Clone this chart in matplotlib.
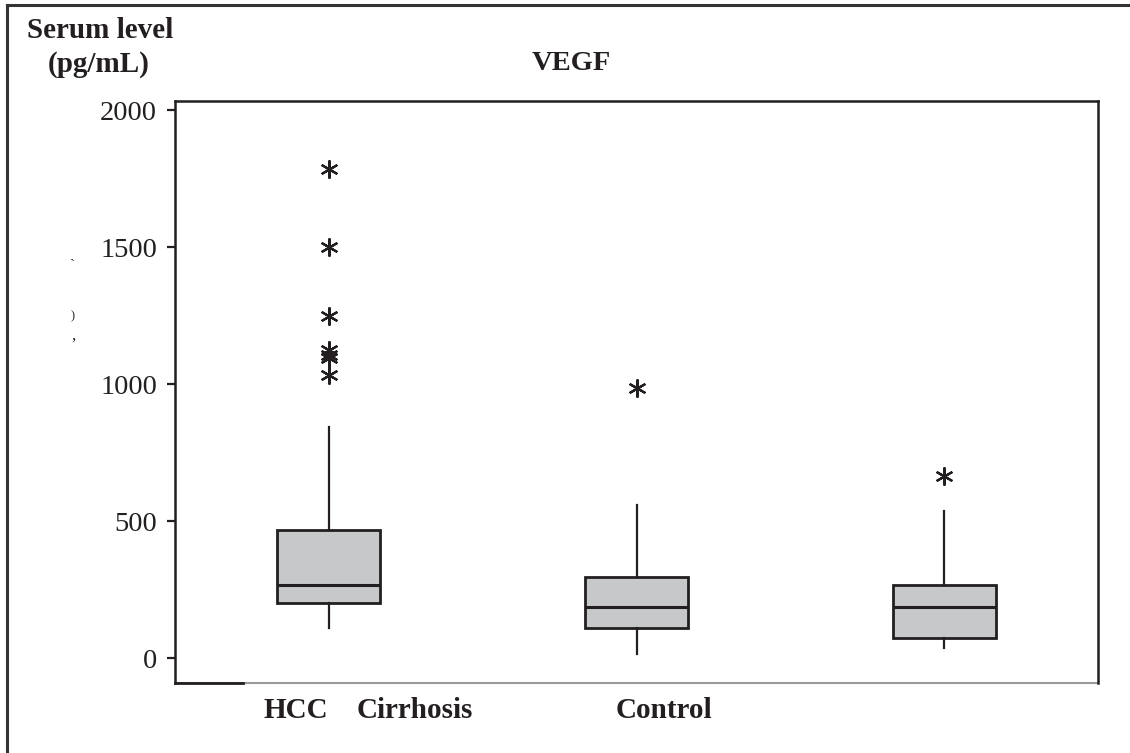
import matplotlib
matplotlib.use("Agg")
import matplotlib.pyplot as plt
from matplotlib.lines import Line2D

plt.rcParams['font.family'] = ['Liberation Serif', 'DejaVu Serif']

# ---- data ----
groups = ["HCC", "Cirrhosis", "Control"]
q1 = [201, 108, 72]
medians = [267, 186, 186]
q3 = [467, 295, 266]
whisker_low = [108, 16, 36]
whisker_high = [842, 558, 536]
outliers_hcc = [1785, 1500, 1250, 1123, 1106, 1094, 1032]
outliers_cirrhosis = [985]
outliers_control = [663]
fliers = [outliers_hcc, outliers_cirrhosis, outliers_control]
yticks = [0, 500, 1000, 1500, 2000]

INK = '#231f20'

fig = plt.figure(figsize=(11.30, 7.53), dpi=100)
ax = fig.add_axes([175/1130, 1 - 683/753, (1098-175)/1130, (683-101)/753])

stats = []
for i, g in enumerate(groups):
    stats.append(dict(label=g, q1=q1[i], med=medians[i], q3=q3[i],
                      whislo=whisker_low[i], whishi=whisker_high[i],
                      fliers=fliers[i]))

ax.bxp(stats, positions=[1, 2, 3], widths=0.335, patch_artist=True,
       showcaps=False,
       boxprops=dict(facecolor='#c7c8ca', edgecolor=INK, linewidth=2.0),
       medianprops=dict(color=INK, linewidth=2.2),
       whiskerprops=dict(color=INK, linewidth=1.6),
       flierprops=dict(marker=(6, 2, 0), markersize=13, markeredgewidth=1.6,
                       markeredgecolor=INK, linestyle='none'))

ax.set_xlim(0.5, 3.5)
ax.set_ylim(-91, 2033)
ax.set_yticks(yticks)
ax.set_yticklabels([str(t) for t in yticks], fontsize=20.5, color=INK)
ax.tick_params(axis='y', direction='out', length=6, width=1.6, pad=7, colors=INK)
ax.tick_params(axis='x', bottom=False, labelbottom=False)

for s in ['left', 'top', 'right']:
    ax.spines[s].set_color(INK)
    ax.spines[s].set_linewidth(1.8)
ax.spines['bottom'].set_visible(False)
# bottom line: gray, with a dark stub on the left
ax.add_line(Line2D([0, 1], [0, 0], transform=ax.transAxes, color='#999999',
                   linewidth=1.5, clip_on=False))
ax.add_line(Line2D([0, (243-175)/923], [0, 0], transform=ax.transAxes,
                   color=INK, linewidth=2.0, clip_on=False))

# category labels (positioned as in the reference)
fig.text(263/1130, 1 - 710/753, "HCC", fontsize=21, fontweight='bold',
         ha='left', va='center', color=INK)
fig.text(357/1130, 1 - 710/753, "Cirrhosis", fontsize=21, fontweight='bold',
         ha='left', va='center', color=INK)
fig.text(616/1130, 1 - 710/753, "Control", fontsize=21, fontweight='bold',
         ha='left', va='center', color=INK)

# title and y label
fig.text(571/1130, 1 - 63/753, "VEGF", fontsize=20.5, fontweight='bold',
         ha='center', va='center', color=INK)
fig.text(100/1130, 1 - 30/753, "Serum level", fontsize=21, fontweight='bold',
         ha='center', va='center', color=INK)
fig.text(99/1130, 1 - 65/753, "(pg/mL)", fontsize=21, fontweight='bold',
         ha='center', va='center', color=INK)

# clipped fragments of a hidden rotated label at the far left
fig.text(72/1130, 1 - 255/753, "\u02CE", fontsize=11, ha='center', va='center', color=INK)
fig.text(73/1130, 1 - 316/753, ")", fontsize=9, ha='center', va='center', color=INK)
fig.text(73/1130, 1 - 336/753, ",", fontsize=12, ha='center', va='center', color=INK)

# outer frame (top and left edges)
fig.add_artist(Line2D([7/1130, 1], [1 - 5/753, 1 - 5/753], transform=fig.transFigure,
                      color='#333333', linewidth=2.2))
fig.add_artist(Line2D([7/1130, 7/1130], [0, 1 - 5/753], transform=fig.transFigure,
                      color='#333333', linewidth=2.2))

fig.savefig("out.png", dpi=100)
